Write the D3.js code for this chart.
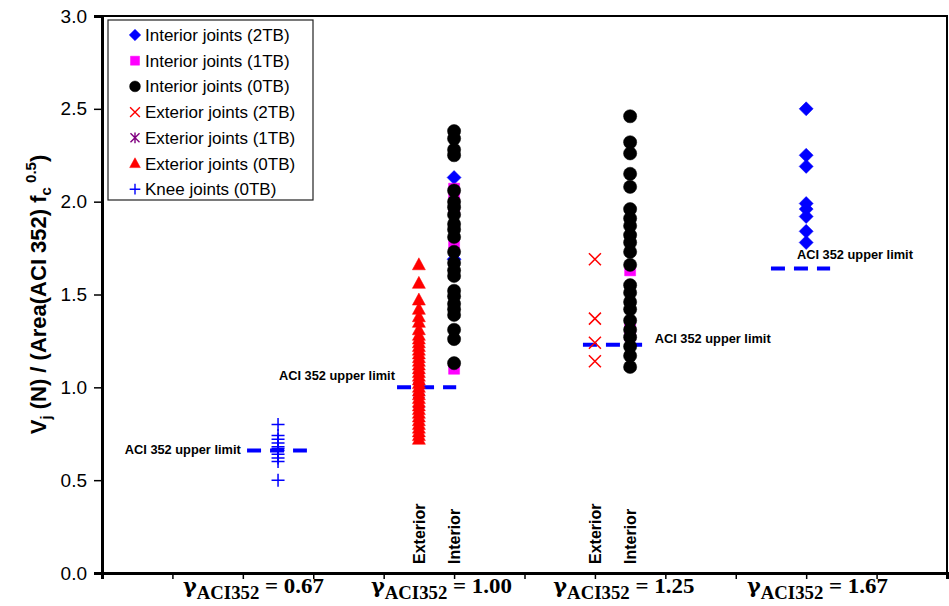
<!DOCTYPE html>
<html>
<head>
<meta charset="utf-8">
<script src="https://cdn.jsdelivr.net/npm/d3@7"></script>
<style>
  body { margin: 0; background: #fff; }
  svg { display: block; }
  text { font-family: "Liberation Sans", Arial, sans-serif; }
</style>
</head>
<body>
<script>
// Define SVG area dimensions
var svgWidth = 949;
var svgHeight = 606;

var chartMargin = { top: 16, right: 2, bottom: 33, left: 102 };
var chartWidth = svgWidth - chartMargin.left - chartMargin.right;
var chartHeight = svgHeight - chartMargin.top - chartMargin.bottom;

// ---- data ----
var yTicks = [0, 0.5, 1.0, 1.5, 2.0, 2.5, 3.0];
var xTicks = d3.range(0, 13);
var gammaLabels = ["0.67", "1.00", "1.25", "1.67"];
var gammaLabelX = [1.15, 3.82, 6.41, 9.16];

// column positions on the x axis
var kneeX = 2.5, ext100X = 4.5, int100X = 5.0, ext125X = 7.0, int125X = 7.5, int167X = 10.0;

var interior2TB_100 = [2.13, 1.69];
var interior2TB_167 = [2.50, 2.25, 2.19, 1.99, 1.96, 1.92, 1.84, 1.78];
var interior1TB_100 = [2.07, 2.02, 1.95, 1.76, 1.10];
var interior1TB_125 = [1.63, 1.34, 1.28];
var interior0TB_100 = [2.38, 2.34, 2.28, 2.25, 2.06, 2.00, 1.97, 1.93, 1.88, 1.85, 1.81, 1.73,
  1.67, 1.63, 1.60, 1.52, 1.49, 1.45, 1.42, 1.39, 1.31, 1.26, 1.13];
var interior0TB_125 = [2.46, 2.32, 2.26, 2.15, 2.08, 1.96, 1.91, 1.87, 1.82, 1.78, 1.73, 1.66,
  1.55, 1.51, 1.46, 1.42, 1.36, 1.31, 1.27, 1.22, 1.17, 1.11];
var exterior2TB_125 = [1.69, 1.37, 1.24, 1.14];
var exterior1TB_100 = [1.05, 0.99, 0.92];
var exterior0TB_100 = [1.66, 1.56, 1.47, 1.42, 1.38, 1.35, 1.31, 1.28, 1.26, 1.24, 1.22, 1.20,
  1.18, 1.16, 1.14, 1.12, 1.10, 1.08, 1.06, 1.04, 1.02, 1.00, 0.98, 0.96, 0.94, 0.92, 0.90,
  0.88, 0.86, 0.84, 0.82, 0.80, 0.78, 0.76, 0.74, 0.72];
var knee0TB = [0.80, 0.74, 0.72, 0.70, 0.68, 0.67, 0.66, 0.64, 0.62, 0.60, 0.50];

// ACI 352 upper limit lines
var limitValues = [0.66, 1.00, 1.23, 1.64];
var limitFrom = [2.06, 4.19, 6.83, 9.50];
var limitTo = [2.91, 5.03, 7.67, 10.34];
var limitLabelX = [1.97, 4.16, 7.85, 9.87];
var limitLabelY = [0.64, 1.04, 1.24, 1.69];
var limitLabelAnchor = ["end", "end", "start", "start"];

// column captions
var captionNames = ["Exterior", "Interior", "Exterior", "Interior"];
var captionX = [ext100X, int100X, ext125X, int125X];

function pts(x, vals) { return vals.map(v => [x, v]); }

var series = [
  { name: "Interior joints (2TB)", shape: "diamond", color: "#0000ff",
    points: pts(int100X, interior2TB_100).concat(pts(int167X, interior2TB_167)) },
  { name: "Interior joints (1TB)", shape: "square", color: "#ff00ff",
    points: pts(int100X, interior1TB_100).concat(pts(int125X, interior1TB_125)) },
  { name: "Interior joints (0TB)", shape: "circle", color: "#000000",
    points: pts(int100X, interior0TB_100).concat(pts(int125X, interior0TB_125)) },
  { name: "Exterior joints (2TB)", shape: "x", color: "#ff0000",
    points: pts(ext125X, exterior2TB_125) },
  { name: "Exterior joints (1TB)", shape: "asterisk", color: "#800080",
    points: pts(ext100X, exterior1TB_100) },
  { name: "Exterior joints (0TB)", shape: "triangle", color: "#ff0000",
    points: pts(ext100X, exterior0TB_100) },
  { name: "Knee joints (0TB)", shape: "plus", color: "#0000ff",
    points: pts(kneeX, knee0TB) }
];

// marker paths
function markerPath(shape, k) {
  var s;
  switch (shape) {
    case "diamond": s = 7 * k; return `M0,${-s}L${s},0L0,${s}L${-s},0Z`;
    case "square": s = 5.5 * k; return `M${-s},${-s}h${2 * s}v${2 * s}h${-2 * s}Z`;
    case "circle": return d3.symbol(d3.symbolCircle, Math.PI * Math.pow(6.6 * k, 2))();
    case "triangle": s = 6.5 * k; return `M0,${-7 * k}L${s},${5 * k}L${-s},${5 * k}Z`;
    case "x": s = 6 * k; return `M${-s},${-s}L${s},${s}M${-s},${s}L${s},${-s}`;
    case "asterisk": s = 5.5 * k;
      return `M${-s},${-s}L${s},${s}M${-s},${s}L${s},${-s}M0,${-s * 1.2}V${s * 1.2}`;
    case "plus": s = 6.5 * k; return `M${-s},0H${s}M0,${-s}V${s}`;
  }
}
function isStroked(shape) { return shape === "x" || shape === "asterisk" || shape === "plus"; }

var svg = d3.select("body").append("svg")
  .attr("width", svgWidth)
  .attr("height", svgHeight);

var chartGroup = svg.append("g")
  .attr("transform", `translate(${chartMargin.left}, ${chartMargin.top})`);

var xScale = d3.scaleLinear().domain([0, 12]).range([0, chartWidth]);
var yScale = d3.scaleLinear().domain([0, 3]).range([chartHeight, 0]);

// frame
chartGroup.append("rect")
  .attr("width", chartWidth).attr("height", chartHeight)
  .attr("fill", "none").attr("stroke", "#000").attr("stroke-width", 2);

// axes
var yAxis = d3.axisLeft(yScale).tickValues(yTicks).tickFormat(d3.format(".1f"))
  .tickSize(8).tickPadding(7);
var xAxis = d3.axisBottom(xScale).tickValues(xTicks).tickFormat("").tickSize(6);

var gy = chartGroup.append("g").call(yAxis);
gy.select(".domain").attr("stroke-width", 3);
gy.selectAll(".tick line").attr("stroke-width", 1.5);
gy.selectAll(".tick text").style("font-size", "19px");

var gx = chartGroup.append("g").attr("transform", `translate(0, ${chartHeight})`).call(xAxis);
gx.select(".domain").attr("stroke-width", 3);
gx.selectAll(".tick line").attr("stroke-width", 1.5);

// limit lines
limitValues.forEach(function(v, i) {
  chartGroup.append("line")
    .attr("x1", xScale(limitFrom[i])).attr("x2", xScale(limitTo[i]))
    .attr("y1", yScale(v)).attr("y2", yScale(v))
    .attr("stroke", "#0000ff").attr("stroke-width", 4)
    .attr("stroke-dasharray", "14,9");
  chartGroup.append("text")
    .attr("x", xScale(limitLabelX[i])).attr("y", yScale(limitLabelY[i]))
    .attr("text-anchor", limitLabelAnchor[i])
    .attr("font-size", 12.8).attr("font-weight", "bold")
    .text("ACI 352 upper limit");
});

// points
series.forEach(function(s) {
  var stroked = isStroked(s.shape);
  chartGroup.append("g").selectAll("path")
    .data(s.points)
    .enter()
    .append("path")
    .attr("transform", d => `translate(${xScale(d[0])},${yScale(d[1])})`)
    .attr("d", markerPath(s.shape, 1))
    .attr("fill", stroked ? "none" : s.color)
    .attr("stroke", s.color)
    .attr("stroke-width", stroked ? 1.5 : 0.5);
});

// column captions
captionNames.forEach(function(c, i) {
  chartGroup.append("text")
    .attr("transform", `translate(${xScale(captionX[i]) + 6},${chartHeight - 9}) rotate(-90)`)
    .attr("font-size", 16).attr("font-weight", "bold")
    .text(c);
});

// gamma labels under the axis (Times-like)
gammaLabels.forEach(function(g, i) {
  var t = chartGroup.append("text")
    .attr("x", xScale(gammaLabelX[i])).attr("y", chartHeight + 20)
    .style("font-family", "'Liberation Serif', 'Times New Roman', serif")
    .attr("font-weight", "bold").attr("font-size", 22)
    .attr("textLength", 141).attr("lengthAdjust", "spacingAndGlyphs");
  t.append("tspan").style("font-family", "'DejaVu Serif', serif").attr("font-size", 20).text("\u03b3");
  t.append("tspan").attr("dy", 6).attr("font-size", 18).text("ACI352");
  t.append("tspan").attr("dy", -6).text(" = " + g);
});

// y axis title
var yTitle = svg.append("text")
  .attr("transform", `translate(46, ${chartMargin.top + chartHeight / 2}) rotate(-90)`)
  .attr("text-anchor", "middle")
  .attr("font-size", 22).attr("font-weight", "bold");
yTitle.append("tspan").text("V");
yTitle.append("tspan").attr("dy", 5).attr("font-size", 15).text("j");
yTitle.append("tspan").attr("dy", -5).text(" (N) / (Area(ACI 352) f");
yTitle.append("tspan").attr("dy", 5).attr("font-size", 15).text("c");
yTitle.append("tspan").attr("dy", -15).attr("font-size", 15).text(" 0.5");
yTitle.append("tspan").attr("dy", 10).text(")");

// legend
var legend = chartGroup.append("g").attr("transform", "translate(6, 4)");
legend.append("rect")
  .attr("width", 205).attr("height", 180)
  .attr("fill", "#fff").attr("stroke", "#222").attr("stroke-width", 1.2);
series.forEach(function(s, i) {
  var row = legend.append("g").attr("transform", `translate(27, ${15 + i * 25.7})`);
  var stroked = isStroked(s.shape);
  row.append("path")
    .attr("d", markerPath(s.shape, 0.82))
    .attr("fill", stroked ? "none" : s.color)
    .attr("stroke", s.color)
    .attr("stroke-width", stroked ? 1.4 : 0.5);
  row.append("text")
    .attr("x", 10).attr("y", 6)
    .attr("font-size", 17)
    .text(s.name);
});
</script>
</body>
</html>
